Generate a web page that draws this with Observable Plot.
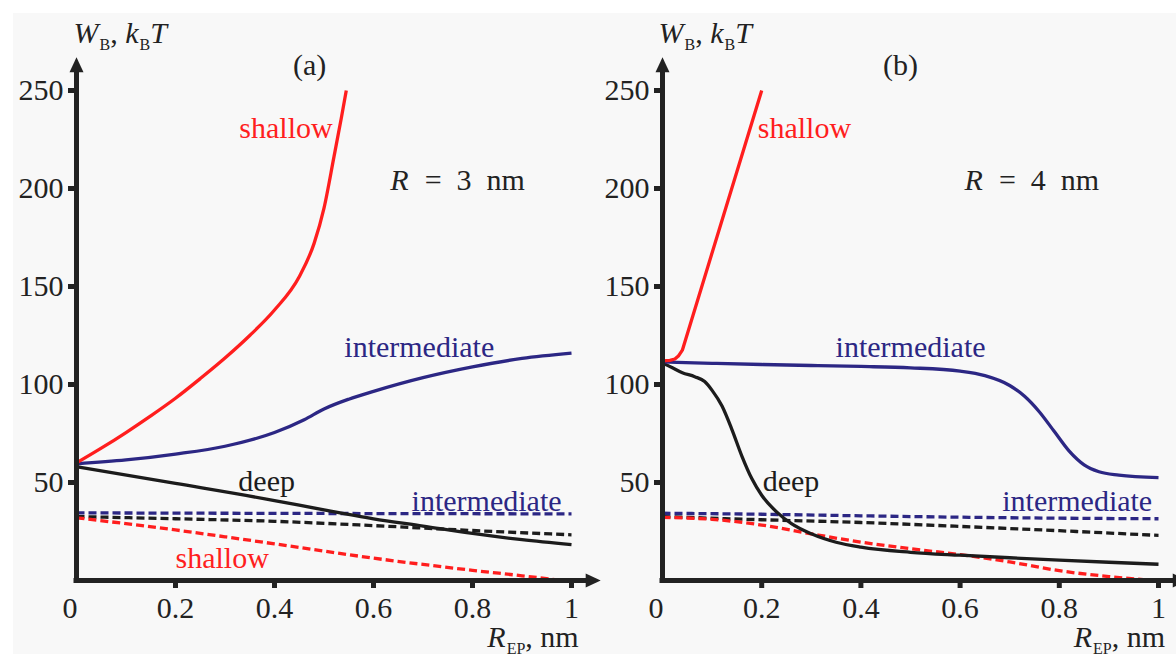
<!DOCTYPE html>
<html>
<head>
<meta charset="utf-8">
<script src="https://cdn.jsdelivr.net/npm/d3@7"></script>
<script src="https://cdn.jsdelivr.net/npm/@observablehq/plot@0.6"></script>
<style>
  html, body { margin: 0; padding: 0; background: #ffffff; }
  #bg { position: absolute; left: 13px; top: 13px; width: 1163px; height: 641px; background: #f8f8f8; }
  #pa { position: absolute; left: 0; top: 0; }
  #pb { position: absolute; left: 588px; top: 0; }
</style>
</head>
<body>
<div id="bg"></div>
<div id="pa"></div>
<div id="pb"></div>
<script>
// ---------- data ----------
const xTicks = [0.2, 0.4, 0.6, 0.8, 1];
const xTickLabels = ["0.2", "0.4", "0.6", "0.8", "1"];
const yTicks = [50, 100, 150, 200, 250];
const originLabel = "0";
const xAxisEnd = 1.04, xArrowTip = 1.059;
const yAxisEnd = 262, yArrowTip = 267;

// Panel (a): R = 3 nm  — [R_EP, W_B]
const aShallowSolid = [[0,60],[0.05,67.5],[0.1,75.5],[0.15,84],[0.2,93],[0.25,103],[0.3,113.5],[0.35,125],[0.4,138],[0.45,155],[0.48,172],[0.5,190],[0.52,216],[0.535,236],[0.545,250]];
const aIntermSolid  = [[0,59.5],[0.1,61.5],[0.2,64.5],[0.3,68.5],[0.4,75.5],[0.46,82],[0.5,87.5],[0.55,92.5],[0.6,96.5],[0.7,103.5],[0.8,109],[0.9,113.3],[1,116]];
const aDeepSolid    = [[0,58],[0.2,49.5],[0.4,40.8],[0.5,36],[0.6,31.5],[0.7,27.8],[0.8,24],[0.9,20.8],[1,18.3]];
const aIntermDash   = [[0,34.5],[0.5,34.2],[1,34]];
const aDeepDash     = [[0,32.6],[0.2,31.5],[0.4,30.2],[0.6,28],[0.8,25.5],[1,23.3]];
const aShallowDash  = [[0,32],[0.1,29],[0.2,25.8],[0.3,22.3],[0.4,18.7],[0.5,15],[0.6,11.4],[0.7,8.2],[0.8,5.2],[0.9,2.4],[0.975,0.2]];

// Panel (b): R = 4 nm
const bShallowSolid = [[0,112],[0.015,112.3],[0.025,113],[0.032,114.5],[0.04,117.5],[0.2,250]];
const bIntermSolid  = [[0,111.5],[0.1,110.8],[0.2,110.2],[0.3,109.7],[0.4,109.2],[0.5,108.5],[0.6,106.8],[0.65,104.5],[0.7,99.5],[0.73,94],[0.76,86],[0.79,76],[0.82,66],[0.85,59],[0.88,55.5],[0.92,53.8],[1,52.5]];
const bDeepSolid    = [[0,111],[0.02,108.5],[0.04,106],[0.065,104],[0.085,101.5],[0.1,97],[0.12,89],[0.14,77],[0.16,63.5],[0.18,52],[0.2,43.5],[0.23,35],[0.26,29],[0.3,23.8],[0.35,19.5],[0.4,17],[0.5,14.4],[0.6,12.9],[0.7,11.6],[0.8,10.4],[0.9,9.3],[1,8.3]];
const bIntermDash   = [[0,34.3],[0.2,33.8],[0.4,33],[0.6,32.3],[0.8,31.8],[1,31.5]];
const bDeepDash     = [[0,32.6],[0.2,31],[0.4,29.6],[0.6,27.6],[0.8,25.4],[1,23]];
const bShallowDash  = [[0,32.2],[0.1,31.2],[0.2,28.3],[0.3,23.8],[0.4,19.6],[0.5,16.2],[0.6,13.2],[0.7,9.5],[0.8,5],[0.9,2],[0.98,0.2]];

// Annotations: text, x (R_EP), y (W_B), kind
const aLabels = [
  {text: "(a)", x: 0.471, y: 257.7, kind: "axis", anchor: "middle"},
  {text: "shallow", x: 0.329, y: 226, kind: "shallow", anchor: "start"},
  {text: "R = 3 nm", x: 0.634, y: 199, kind: "axis", anchor: "start"},
  {text: "intermediate", x: 0.541, y: 113.8, kind: "intermediate", anchor: "start"},
  {text: "deep", x: 0.327, y: 45.9, kind: "deep", anchor: "start"},
  {text: "intermediate", x: 0.677, y: 35.7, kind: "intermediate", anchor: "start"},
  {text: "shallow", x: 0.2, y: 6.6, kind: "shallow", anchor: "start"},
  {text: "W_B, k_BT", x: -0.006, y: 274, kind: "axis", anchor: "start"},
  {text: "R_EP, nm", x: 0.83, y: -33.7, kind: "axis", anchor: "start"}
];
const bLabels = [
  {text: "(b)", x: 0.48, y: 257.7, kind: "axis", anchor: "middle"},
  {text: "shallow", x: 0.192, y: 226, kind: "shallow", anchor: "start"},
  {text: "R = 4 nm", x: 0.609, y: 199, kind: "axis", anchor: "start"},
  {text: "intermediate", x: 0.349, y: 113.8, kind: "intermediate", anchor: "start"},
  {text: "deep", x: 0.202, y: 45.9, kind: "deep", anchor: "start"},
  {text: "intermediate", x: 0.685, y: 35.7, kind: "intermediate", anchor: "start"},
  {text: "W_B, k_BT", x: -0.008, y: 274, kind: "axis", anchor: "start"},
  {text: "R_EP, nm", x: 0.829, y: -33.7, kind: "axis", anchor: "start"}
];

// ---------- styles ----------
const FONT = "Liberation Serif";
const COLORS = {shallow: "#ff1e1e", intermediate: "#2c2784", deep: "#1c1c1c", axis: "#222222"};
// rich labels: [segment, kind] with kind "i" = italic, "sub" = subscript
const RICH = {
  "W_B, k_BT": [["W","i"],["B","sub"],[", ",""],["k","i"],["B","sub"],["T","i"]],
  "R = 3 nm": [["R","i"],["\u2002=\u20023\u2002nm",""]],
  "R = 4 nm": [["R","i"],["\u2002=\u20024\u2002nm",""]],
  "R_EP, nm": [["R","i"],["EP","sub"],[", nm",""]]
};
const arrowHead = {
  draw(ctx) { ctx.moveTo(0, 0); ctx.lineTo(7, 15); ctx.lineTo(-7, 15); ctx.closePath(); }
};

function lineMark(data, color, dashed, curve) {
  return Plot.line(data, {
    x: d => d[0], y: d => d[1], stroke: color, strokeWidth: 3.3,
    strokeDasharray: dashed ? "8,4" : null, strokeLinecap: "butt", curve: curve || "monotone-x"
  });
}

function panel(series, labels, ml, mr) {
  return Plot.plot({
    width: 588, height: 654,
    marginLeft: ml, marginRight: mr, marginTop: 90, marginBottom: 74,
    x: {domain: [0, 1]},
    y: {domain: [0, 250]},
    style: {fontFamily: FONT, fontSize: "30px", color: "#222", background: "none", overflow: "visible"},
    marks: [
      lineMark(series.intermDash, COLORS.intermediate, true),
      lineMark(series.deepDash, COLORS.deep, true),
      lineMark(series.shallowDash, COLORS.shallow, true),
      lineMark(series.deepSolid, COLORS.deep, false),
      lineMark(series.intermSolid, COLORS.intermediate, false),
      lineMark(series.shallowSolid, COLORS.shallow, false, series.shallowCurve),
      Plot.axisX({ticks: xTicks, tickFormat: (d, i) => xTickLabels[i], tickSize: 8, tickPadding: 8,
        strokeWidth: 5, stroke: "#222", label: null, fontSize: 30, fontFamily: FONT}),
      Plot.axisX({ticks: [0], tickFormat: () => originLabel, tickSize: 0, tickPadding: 16, dx: -6.5,
        label: null, fontSize: 30, fontFamily: FONT}),
      Plot.axisY({ticks: yTicks, tickSize: 8, tickPadding: 5, strokeWidth: 5, stroke: "#222",
        label: null, fontSize: 30, fontFamily: FONT}),
      Plot.ruleY([{y: 0, x1: 0, x2: xAxisEnd}], {y: "y", x1: "x1", x2: "x2", stroke: "#222", strokeWidth: 5, strokeLinecap: "square"}),
      Plot.ruleX([{x: 0, y1: 0, y2: yAxisEnd}], {x: "x", y1: "y1", y2: "y2", stroke: "#222", strokeWidth: 5, strokeLinecap: "square"}),
      Plot.dot([{x: xArrowTip, y: 0}], {x: "x", y: "y", symbol: arrowHead, rotate: 90, fill: "#222", stroke: null}),
      Plot.dot([{x: 0, y: yArrowTip}], {x: "x", y: "y", symbol: arrowHead, rotate: 0, fill: "#222", stroke: null}),
      Plot.text(labels.filter(d => d.anchor === "start"), {x: "x", y: "y", text: "text", fill: d => COLORS[d.kind],
        textAnchor: "start", lineAnchor: "bottom", fontSize: 30, fontFamily: FONT}),
      Plot.text(labels.filter(d => d.anchor === "middle"), {x: "x", y: "y", text: "text", fill: d => COLORS[d.kind],
        textAnchor: "middle", lineAnchor: "bottom", fontSize: 30, fontFamily: FONT})
    ]
  });
}

// Replace rich labels by runs of text (italic letters, shifted subscripts)
function richify(svg) {
  const NS = "http://www.w3.org/2000/svg";
  const nodes = [];
  svg.querySelectorAll("text").forEach(el => { if (RICH[el.textContent]) nodes.push(el); });
  for (const el of nodes) {
    const segs = RICH[el.textContent];
    const g = document.createElementNS(NS, "g");
    const tr = el.getAttribute("transform");
    if (tr) g.setAttribute("transform", tr);
    el.parentNode.insertBefore(g, el);
    const fill = el.getAttribute("fill") || getComputedStyle(el).fill;
    const by = parseFloat(el.getAttribute("y")) || 0;
    let cx = parseFloat(el.getAttribute("x")) || 0;
    for (const [s, k] of segs) {
      const t = document.createElementNS(NS, "text");
      t.setAttribute("x", cx);
      t.setAttribute("y", by + (k === "sub" ? 7 : 0));
      t.setAttribute("fill", fill);
      t.setAttribute("font-family", FONT);
      t.setAttribute("font-size", k === "sub" ? 16 : 30);
      t.setAttribute("text-anchor", "start");
      if (k === "i") t.setAttribute("font-style", "italic");
      t.style.whiteSpace = "pre";
      t.textContent = s;
      g.appendChild(t);
      const w = t.getComputedTextLength();
      cx += w + (k === "i" ? 1 : 0);
    }
    el.remove();
  }
}

const sa = panel({
  shallowSolid: aShallowSolid, intermSolid: aIntermSolid, deepSolid: aDeepSolid,
  intermDash: aIntermDash, deepDash: aDeepDash, shallowDash: aShallowDash, shallowCurve: "monotone-x"
}, aLabels, 76, 17);
document.getElementById("pa").appendChild(sa);
const sb = panel({
  shallowSolid: bShallowSolid, intermSolid: bIntermSolid, deepSolid: bDeepSolid,
  intermDash: bIntermDash, deepDash: bDeepDash, shallowDash: bShallowDash, shallowCurve: "linear"
}, bLabels, 74, 18);
document.getElementById("pb").appendChild(sb);
richify(sa);
richify(sb);
</script>
</body>
</html>
